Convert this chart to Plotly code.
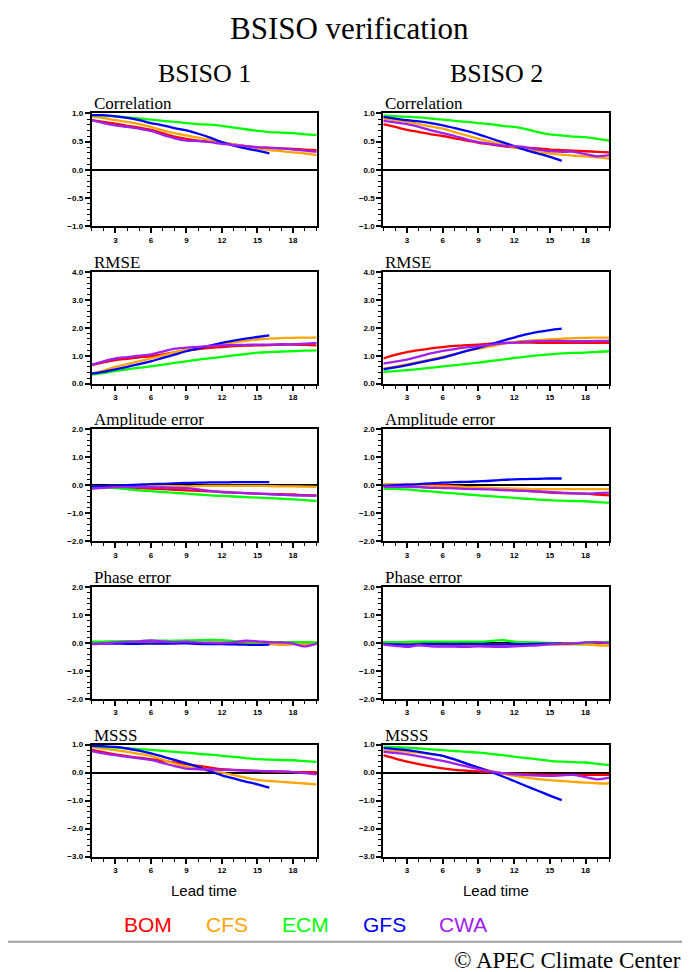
import plotly.graph_objects as go

# lead time (days)
leads = list(range(1, 21))

models = ["BOM", "CFS", "ECM", "GFS", "CWA"]
colors = {"BOM": "#ff0000", "CFS": "#ffa500", "ECM": "#00ff00",
          "GFS": "#0000ff", "CWA": "#a020f0"}

# ---- BSISO 1 ----
cor_b1 = {
    "BOM": [0.88, 0.85, 0.82, 0.78, 0.75, 0.71, 0.65, 0.59, 0.55, 0.52, 0.50, 0.48, 0.45, 0.42, 0.40, 0.39, 0.38, 0.37, 0.36, 0.35],
    "CFS": [0.95, 0.92, 0.88, 0.85, 0.81, 0.76, 0.70, 0.65, 0.61, 0.57, 0.53, 0.49, 0.45, 0.41, 0.38, 0.35, 0.33, 0.31, 0.29, 0.26],
    "ECM": [0.97, 0.96, 0.95, 0.93, 0.91, 0.89, 0.87, 0.85, 0.83, 0.81, 0.80, 0.78, 0.75, 0.72, 0.69, 0.67, 0.66, 0.65, 0.63, 0.62],
    "GFS": [0.97, 0.97, 0.95, 0.92, 0.88, 0.83, 0.79, 0.74, 0.70, 0.64, 0.57, 0.49, 0.43, 0.38, 0.34, 0.29],
    "CWA": [0.88, 0.83, 0.79, 0.76, 0.73, 0.69, 0.62, 0.56, 0.52, 0.51, 0.49, 0.46, 0.44, 0.42, 0.40, 0.39, 0.38, 0.36, 0.34, 0.32],
}
rmse_b1 = {
    "BOM": [0.66, 0.76, 0.84, 0.89, 0.94, 0.98, 1.05, 1.12, 1.19, 1.24, 1.28, 1.31, 1.34, 1.36, 1.37, 1.38, 1.39, 1.40, 1.39, 1.37],
    "CFS": [0.36, 0.47, 0.60, 0.70, 0.80, 0.90, 1.01, 1.12, 1.22, 1.29, 1.35, 1.41, 1.47, 1.53, 1.58, 1.61, 1.63, 1.64, 1.65, 1.65],
    "ECM": [0.33, 0.38, 0.45, 0.51, 0.57, 0.62, 0.68, 0.74, 0.80, 0.86, 0.91, 0.96, 1.01, 1.06, 1.11, 1.13, 1.15, 1.16, 1.18, 1.19],
    "GFS": [0.36, 0.42, 0.51, 0.60, 0.70, 0.80, 0.92, 1.04, 1.16, 1.26, 1.36, 1.46, 1.54, 1.61, 1.67, 1.73],
    "CWA": [0.68, 0.80, 0.90, 0.95, 1.00, 1.05, 1.15, 1.25, 1.29, 1.32, 1.35, 1.37, 1.38, 1.39, 1.40, 1.40, 1.41, 1.41, 1.43, 1.46],
}
amp_b1 = {
    "BOM": [-0.10, -0.08, -0.06, -0.08, -0.10, -0.12, -0.14, -0.16, -0.18, -0.20, -0.22, -0.24, -0.26, -0.28, -0.30, -0.31, -0.32, -0.33, -0.35, -0.36],
    "CFS": [-0.04, -0.03, -0.02, -0.02, -0.02, -0.02, -0.03, -0.03, -0.04, -0.03, -0.02, -0.02, -0.02, -0.02, -0.02, -0.03, -0.04, -0.04, -0.05, -0.06],
    "ECM": [-0.06, -0.08, -0.10, -0.14, -0.18, -0.21, -0.24, -0.27, -0.30, -0.33, -0.36, -0.38, -0.40, -0.42, -0.44, -0.46, -0.48, -0.50, -0.53, -0.56],
    "GFS": [-0.04, -0.03, -0.02, 0.00, 0.02, 0.04, 0.05, 0.07, 0.08, 0.09, 0.10, 0.10, 0.11, 0.11, 0.11, 0.11],
    "CWA": [-0.12, -0.09, -0.07, -0.07, -0.07, -0.07, -0.08, -0.09, -0.10, -0.15, -0.20, -0.24, -0.26, -0.28, -0.30, -0.32, -0.34, -0.36, -0.37, -0.38],
}
phase_b1 = {
    "BOM": [0.02, 0.00, 0.02, 0.03, 0.03, 0.05, 0.03, 0.03, 0.02, -0.02, 0.00, 0.00, 0.00, 0.00, -0.03, -0.03, -0.05, -0.04, -0.02, 0.00],
    "CFS": [0.03, 0.02, 0.00, -0.02, -0.02, 0.00, -0.02, 0.00, 0.02, -0.04, 0.00, 0.00, -0.02, -0.03, -0.02, -0.01, -0.05, -0.03, -0.05, -0.04],
    "ECM": [0.05, 0.05, 0.06, 0.07, 0.07, 0.08, 0.08, 0.08, 0.09, 0.10, 0.11, 0.10, 0.07, 0.05, 0.04, 0.03, 0.03, 0.03, 0.03, 0.02],
    "GFS": [-0.03, -0.02, -0.02, -0.03, -0.03, -0.02, -0.02, -0.02, -0.01, -0.03, -0.04, -0.04, -0.05, -0.06, -0.07, -0.06],
    "CWA": [-0.04, -0.02, 0.02, 0.04, 0.06, 0.09, 0.06, 0.03, 0.05, 0.02, 0.01, 0.00, 0.02, 0.08, 0.06, 0.03, 0.02, -0.02, -0.12, -0.02],
}
msss_b1 = {
    "BOM": [0.81, 0.73, 0.65, 0.59, 0.53, 0.48, 0.42, 0.36, 0.30, 0.24, 0.18, 0.12, 0.10, 0.08, 0.06, 0.04, 0.03, 0.02, 0.02, 0.02],
    "CFS": [0.92, 0.86, 0.80, 0.74, 0.67, 0.60, 0.46, 0.32, 0.21, 0.13, 0.06, 0.00, -0.09, -0.18, -0.26, -0.30, -0.33, -0.36, -0.39, -0.42],
    "ECM": [0.95, 0.92, 0.89, 0.86, 0.84, 0.81, 0.78, 0.74, 0.71, 0.67, 0.64, 0.60, 0.56, 0.52, 0.48, 0.46, 0.45, 0.44, 0.41, 0.38],
    "GFS": [0.95, 0.94, 0.92, 0.86, 0.78, 0.69, 0.57, 0.45, 0.33, 0.20, 0.05, -0.10, -0.21, -0.32, -0.42, -0.54],
    "CWA": [0.77, 0.69, 0.62, 0.56, 0.51, 0.45, 0.34, 0.23, 0.14, 0.12, 0.11, 0.10, 0.09, 0.07, 0.06, 0.05, 0.04, 0.02, -0.02, -0.06],
}

# ---- BSISO 2 ----
cor_b2 = {
    "BOM": [0.81, 0.76, 0.71, 0.67, 0.63, 0.60, 0.56, 0.52, 0.48, 0.45, 0.42, 0.40, 0.39, 0.38, 0.36, 0.35, 0.34, 0.33, 0.32, 0.31],
    "CFS": [0.91, 0.88, 0.85, 0.81, 0.77, 0.73, 0.67, 0.61, 0.55, 0.50, 0.45, 0.40, 0.36, 0.32, 0.29, 0.27, 0.25, 0.24, 0.22, 0.20],
    "ECM": [0.96, 0.95, 0.94, 0.93, 0.91, 0.89, 0.87, 0.85, 0.83, 0.81, 0.78, 0.76, 0.72, 0.67, 0.63, 0.61, 0.59, 0.58, 0.55, 0.52],
    "GFS": [0.94, 0.91, 0.88, 0.86, 0.83, 0.79, 0.74, 0.69, 0.63, 0.56, 0.49, 0.42, 0.35, 0.29, 0.23, 0.16],
    "CWA": [0.87, 0.84, 0.81, 0.76, 0.70, 0.65, 0.60, 0.54, 0.49, 0.46, 0.43, 0.42, 0.40, 0.36, 0.33, 0.32, 0.32, 0.28, 0.24, 0.26],
}
rmse_b2 = {
    "BOM": [0.90, 1.03, 1.13, 1.20, 1.26, 1.31, 1.35, 1.38, 1.40, 1.43, 1.45, 1.47, 1.47, 1.46, 1.46, 1.46, 1.46, 1.46, 1.46, 1.46],
    "CFS": [0.54, 0.61, 0.69, 0.78, 0.87, 0.96, 1.06, 1.16, 1.25, 1.33, 1.42, 1.49, 1.53, 1.56, 1.59, 1.61, 1.63, 1.64, 1.65, 1.65],
    "ECM": [0.42, 0.45, 0.48, 0.52, 0.57, 0.62, 0.66, 0.71, 0.75, 0.81, 0.86, 0.92, 0.97, 1.01, 1.05, 1.08, 1.10, 1.11, 1.14, 1.16],
    "GFS": [0.51, 0.58, 0.66, 0.75, 0.84, 0.93, 1.05, 1.17, 1.28, 1.41, 1.53, 1.65, 1.76, 1.85, 1.92, 1.97],
    "CWA": [0.72, 0.79, 0.86, 0.97, 1.08, 1.17, 1.24, 1.30, 1.34, 1.39, 1.44, 1.47, 1.50, 1.52, 1.53, 1.53, 1.52, 1.52, 1.53, 1.53],
}
amp_b2 = {
    "BOM": [0.00, 0.01, 0.02, 0.01, 0.00, 0.00, -0.03, -0.07, -0.10, -0.13, -0.16, -0.18, -0.20, -0.23, -0.26, -0.28, -0.29, -0.30, -0.33, -0.36],
    "CFS": [0.05, 0.03, 0.00, -0.01, -0.03, -0.04, -0.05, -0.07, -0.08, -0.09, -0.11, -0.12, -0.13, -0.14, -0.14, -0.14, -0.14, -0.14, -0.14, -0.14],
    "ECM": [-0.12, -0.13, -0.15, -0.19, -0.22, -0.26, -0.29, -0.33, -0.36, -0.39, -0.42, -0.45, -0.48, -0.51, -0.53, -0.55, -0.56, -0.57, -0.60, -0.62],
    "GFS": [-0.02, 0.00, 0.02, 0.04, 0.07, 0.09, 0.11, 0.12, 0.14, 0.16, 0.19, 0.21, 0.22, 0.23, 0.24, 0.24],
    "CWA": [-0.06, -0.06, -0.06, -0.07, -0.09, -0.10, -0.11, -0.13, -0.14, -0.15, -0.17, -0.18, -0.20, -0.22, -0.24, -0.26, -0.29, -0.30, -0.28, -0.26],
}
phase_b2 = {
    "BOM": [0.00, -0.02, -0.03, -0.04, -0.05, -0.05, -0.05, -0.06, -0.06, -0.06, -0.05, -0.05, -0.03, -0.02, -0.02, -0.02, -0.01, 0.00, 0.02, 0.00],
    "CFS": [0.02, 0.00, -0.02, -0.03, -0.05, -0.06, -0.07, -0.07, -0.06, -0.06, -0.05, -0.05, -0.04, -0.04, -0.05, -0.06, -0.05, -0.06, -0.08, -0.09],
    "ECM": [0.03, 0.03, 0.04, 0.05, 0.05, 0.05, 0.05, 0.05, 0.05, 0.07, 0.10, 0.05, 0.03, 0.02, 0.00, -0.02, -0.02, 0.00, 0.03, 0.04],
    "GFS": [-0.04, -0.05, -0.06, -0.05, -0.04, -0.04, -0.05, -0.04, -0.04, -0.05, -0.05, -0.04, -0.04, -0.03, -0.02, -0.02],
    "CWA": [-0.06, -0.10, -0.14, -0.08, -0.12, -0.13, -0.13, -0.14, -0.12, -0.13, -0.14, -0.12, -0.10, -0.08, -0.05, -0.03, -0.02, 0.02, 0.03, 0.00],
}
msss_b2 = {
    "BOM": [0.62, 0.50, 0.39, 0.30, 0.22, 0.15, 0.10, 0.07, 0.04, 0.01, -0.02, -0.04, -0.06, -0.07, -0.08, -0.08, -0.08, -0.08, -0.08, -0.08],
    "CFS": [0.77, 0.76, 0.75, 0.71, 0.66, 0.60, 0.46, 0.32, 0.18, 0.06, -0.04, -0.12, -0.18, -0.23, -0.27, -0.30, -0.33, -0.36, -0.38, -0.39],
    "ECM": [0.93, 0.91, 0.89, 0.86, 0.83, 0.80, 0.77, 0.74, 0.71, 0.67, 0.62, 0.57, 0.52, 0.47, 0.42, 0.39, 0.37, 0.36, 0.31, 0.27],
    "GFS": [0.87, 0.84, 0.80, 0.74, 0.67, 0.60, 0.47, 0.32, 0.18, 0.03, -0.13, -0.30, -0.48, -0.65, -0.82, -0.98],
    "CWA": [0.74, 0.70, 0.65, 0.58, 0.50, 0.42, 0.32, 0.22, 0.12, 0.04, -0.02, -0.06, -0.09, -0.11, -0.12, -0.10, -0.08, -0.16, -0.24, -0.18],
}

# panel titles, y ranges, major tick step
metrics = ["Correlation", "RMSE", "Amplitude error", "Phase error", "MSSS"]
yranges = [(-1, 1), (0, 4), (-2, 2), (-2, 2), (-3, 1)]
ysteps = [0.5, 1.0, 1.0, 1.0, 1.0]
panels = [[cor_b1, cor_b2], [rmse_b1, rmse_b2], [amp_b1, amp_b2],
          [phase_b1, phase_b2], [msss_b1, msss_b2]]

# page has the default 8px body margin; vertical positions are corrected
# for the way the page gets captured
OFF = 8
W, H = 690 - 2 * OFF, 964


def px(x):
    return (x - OFF) / W


def py(y):
    return 1 - ((y - 4) / 0.99 - OFF) / H


col_px = [(91.7, 316.7), (383.3, 609.3)]
row_px = [(113.3, 226), (271.7, 383.3), (428.7, 541), (586.7, 698.3), (744, 856)]

fig = go.Figure()
layout = {}
annotations = []
tickfont = dict(family="Liberation Sans, Arial", size=8, color="black", weight="bold")


def note(text, x, y, size, family, color="black", xa="center", ya="middle"):
    annotations.append(dict(text=text, x=px(x), y=py(y), xref="paper", yref="paper",
                            xanchor=xa, yanchor=ya, showarrow=False,
                            font=dict(family=family, size=size, color=color)))


n = 0
for r in range(5):
    for c in range(2):
        n += 1
        sfx = "" if n == 1 else str(n)
        data = panels[r][c]
        for m in models:
            vals = data[m]
            fig.add_trace(go.Scatter(
                x=leads[:len(vals)], y=vals, mode="lines",
                line=dict(color=colors[m], width=2.3, shape="spline", smoothing=0.8),
                xaxis="x" + sfx, yaxis="y" + sfx, showlegend=False,
                hovertemplate=m + ": %{y:.2f}<extra></extra>"))
        x0, x1 = col_px[c]
        t, b = row_px[r]
        lo, hi = yranges[r]
        layout["xaxis" + sfx] = dict(
            domain=[px(x0), px(x1)], range=[1, 20], anchor="y" + sfx,
            tick0=0, dtick=3, ticks="outside", ticklen=5, tickwidth=1.5,
            tickcolor="black", showline=True, linewidth=2, linecolor="black",
            mirror=True, showgrid=False, zeroline=False, tickfont=tickfont,
            minor=dict(dtick=1, ticks="outside", ticklen=3, tickwidth=1,
                       tickcolor="black", showgrid=False))
        layout["yaxis" + sfx] = dict(
            domain=[py(b), py(t)], range=[lo, hi], anchor="x" + sfx,
            tick0=0, dtick=ysteps[r], tickformat=".1f", ticks="outside",
            ticklen=5, tickwidth=1.5, tickcolor="black", showline=True,
            linewidth=2, linecolor="black", mirror=True, showgrid=False,
            zeroline=(lo < 0), zerolinecolor="black", zerolinewidth=1.8,
            tickfont=tickfont,
            minor=dict(dtick=ysteps[r] / 5, ticks="outside", ticklen=3,
                       tickwidth=1, tickcolor="black", showgrid=False))
        note(metrics[r], x0, t + 2, 17, "Liberation Serif", xa="left", ya="bottom")

# headings
note("BSISO verification", 349.5, 28, 31, "Liberation Serif")
note("BSISO 1", 204.5, 73, 26, "Liberation Serif")
note("BSISO 2", 496.5, 73, 26, "Liberation Serif")
note("Lead time", 203.5, 890, 15, "Liberation Sans")
note("Lead time", 496, 890, 15, "Liberation Sans")

# model legend as coloured text
legend_x = [148, 227, 305.5, 384.5, 462.5]
for m, cx in zip(models, legend_x):
    note(m, cx, 924, 21, "Liberation Sans", color=colors[m])

note("© APEC Climate Center", 683, 960, 23, "Liberation Serif", xa="right")

fig.update_layout(
    **layout,
    width=W, height=H,
    margin=dict(l=0, r=0, t=0, b=0),
    paper_bgcolor="white", plot_bgcolor="white",
    annotations=annotations,
    shapes=[dict(type="line", xref="paper", yref="paper", x0=px(0), x1=px(690),
                 y0=py(941), y1=py(941),
                 line=dict(color="#a0a0a0", width=2))],
)

fig.write_html("out.html")
